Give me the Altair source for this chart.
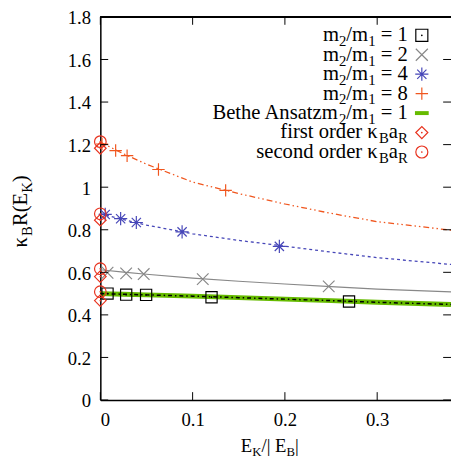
import altair as alt
import pandas as pd

# ---------------- data ----------------
# fitted curves
curve_x = [0, 0.025, 0.05, 0.1, 0.15, 0.2, 0.25, 0.3, 0.38]
curve_m8 = [1.212, 1.157, 1.108, 1.024, 0.970, 0.921, 0.877, 0.838, 0.798]
curve_m4 = [0.876, 0.848, 0.822, 0.781, 0.750, 0.723, 0.695, 0.669, 0.637]
curve_m2 = [0.612, 0.601, 0.591, 0.573, 0.558, 0.545, 0.533, 0.521, 0.508]
curve_m1 = [0.500, 0.497, 0.494, 0.488, 0.481, 0.474, 0.467, 0.459, 0.449]
bethe_m1 = [0.500, 0.497, 0.494, 0.488, 0.481, 0.474, 0.467, 0.459, 0.449]

# data points
m1_x = [0.0078, 0.028, 0.0496, 0.1205, 0.2695]
m1_y = [0.500, 0.495, 0.494, 0.483, 0.463]
m2_x = [0.0078, 0.028, 0.047, 0.111, 0.2475]
m2_y = [0.598, 0.595, 0.592, 0.568, 0.534]
m4_x = [0.0053, 0.022, 0.039, 0.0886, 0.194]
m4_y = [0.872, 0.852, 0.834, 0.790, 0.722]
m8_x = [0.0018, 0.0166, 0.029, 0.063, 0.1358]
m8_y = [1.203, 1.172, 1.148, 1.083, 0.985]
first_order = [1.183, 0.845, 0.580, 0.467]
second_order = [1.214, 0.875, 0.617, 0.509]

x_ticks = [0, 0.1, 0.2, 0.3]
y_ticks = [0, 0.2, 0.4, 0.6, 0.8, 1.0, 1.2, 1.4, 1.6, 1.8]

legend_rows = [
    [("m", 0), ("2", 1), ("/m", 0), ("1", 1), (" = 1", 0)],
    [("m", 0), ("2", 1), ("/m", 0), ("1", 1), (" = 2", 0)],
    [("m", 0), ("2", 1), ("/m", 0), ("1", 1), (" = 4", 0)],
    [("m", 0), ("2", 1), ("/m", 0), ("1", 1), (" = 8", 0)],
    [("Bethe Ansatzm", 0), ("2", 1), ("/m", 0), ("1", 1), (" = 1", 0)],
    [("first order κ", 0), ("B", 1), ("a", 0), ("R", 1)],
    [("second order κ", 0), ("B", 1), ("a", 0), ("R", 1)],
]
x_title = [("E", 0), ("K", 1), ("/| E", 0), ("B", 1), ("|", 0)]
y_title = [("κ", 0), ("B", 1), ("R(E", 0), ("K", 1), (")", 0)]

# ---------------- layout ----------------
W, H = 357, 390
XMAX = 0.38
FONT = "Liberation Serif, Times New Roman, DejaVu Serif, serif"
FS = 19           # tick labels / x title
TICK = 8

ORANGE = "#f0561e"
BLUE = "#4646b8"
GRAY = "#888888"
GREEN = "#66bb00"
RED = "#e8321e"

WID = {' ': 0.25, '(': 0.333, ')': 0.333, '/': 0.278, '|': 0.2, '=': 0.564,
       '.': 0.25, 'a': 0.444, 'b': 0.5, 'c': 0.444, 'd': 0.5, 'e': 0.444,
       'f': 0.333, 'h': 0.5, 'i': 0.278, 'm': 0.778, 'n': 0.5, 'o': 0.5,
       'r': 0.333, 's': 0.389, 't': 0.278, 'z': 0.444, 'A': 0.722,
       'B': 0.667, 'E': 0.611, 'K': 0.722, 'R': 0.667, 'κ': 0.56}


def tw(s, size):
    return sum(WID.get(c, 0.5) for c in s) * size


def pieces_width(pieces, fs, sfs):
    return sum(tw(t, sfs if s else fs) for t, s in pieces)


def place(pieces, x0, yb, out, fs, sfs, sub, rotated=False):
    """Lay out text pieces; leading spaces become an advance (SVG drops them)."""
    pos = x0
    for t, s in pieces:
        size = sfs if s else fs
        lead = len(t) - len(t.lstrip(" "))
        pos += tw(" " * lead, size) * (-1 if rotated else 1)
        body = t.lstrip(" ")
        if rotated:
            out.append({"px": yb + (sub if s else 0), "py": pos, "t": body, "fs": size})
            pos -= tw(body, size)
        else:
            out.append({"px": pos, "py": yb + (sub if s else 0), "t": body, "fs": size})
            pos += tw(body, size)


xs = alt.Scale(domain=[0, XMAX], nice=False, zero=False)
ys = alt.Scale(domain=[0, 1.8], nice=False, zero=False)

# curves
cdf = pd.DataFrame({"x": curve_x, "m8": curve_m8, "m4": curve_m4,
                    "m2": curve_m2, "m1": curve_m1, "bethe": bethe_m1})

xaxis = alt.Axis(values=x_ticks, format="~g", ticks=False, tickSize=0, grid=False,
                 title=None, labelFont=FONT, labelFontSize=FS, labelColor="black",
                 domainColor="black", domainWidth=1.5, labelPadding=11)
yaxis = alt.Axis(values=y_ticks, format="~g", ticks=False, tickSize=0, grid=False,
                 title=None, labelFont=FONT, labelFontSize=FS, labelColor="black",
                 domainColor="black", domainWidth=1.5, labelPadding=10, labelOffset=1)

base = alt.Chart(cdf)
bethe = base.mark_line(color=GREEN, strokeWidth=5).encode(
    x=alt.X("x:Q", scale=xs, axis=xaxis), y=alt.Y("bethe:Q", scale=ys, axis=yaxis))
l1 = base.mark_line(color="black", strokeWidth=1.5, strokeDash=[4, 3, 1.5, 3]).encode(
    x=alt.X("x:Q", scale=xs), y=alt.Y("m1:Q", scale=ys))
l2 = base.mark_line(color=GRAY, strokeWidth=1.2).encode(
    x=alt.X("x:Q", scale=xs), y=alt.Y("m2:Q", scale=ys))
l4 = base.mark_line(color=BLUE, strokeWidth=1.3, strokeDash=[3, 3]).encode(
    x=alt.X("x:Q", scale=xs), y=alt.Y("m4:Q", scale=ys))
l8 = base.mark_line(color=ORANGE, strokeWidth=1.3, strokeDash=[6, 3, 1.5, 3, 1.5, 3]).encode(
    x=alt.X("x:Q", scale=xs), y=alt.Y("m8:Q", scale=ys))

CROSS = "M-1,-1L1,1M1,-1L-1,1"
STAR = "M-1,0L1,0M0,-1L0,1M-0.7,-0.7L0.7,0.7M-0.7,0.7L0.7,-0.7"
PLUS = "M-1,0L1,0M0,-1L0,1"


def pts(xv, yv, shape, color, size, filled=False, sw=1.2):
    d = pd.DataFrame({"x": xv, "y": yv})
    return alt.Chart(d).mark_point(shape=shape, color=color, size=size, filled=filled,
                                   strokeWidth=sw, opacity=1).encode(
        x=alt.X("x:Q", scale=xs), y=alt.Y("y:Q", scale=ys))


zeros = [0] * len(first_order)
p_layers = [
    pts(m1_x, m1_y, "square", "black", 130),
    pts(m1_x, m1_y, "circle", "black", 3, filled=True),
    pts(m2_x, m2_y, CROSS, GRAY, 140),
    pts(m4_x, m4_y, STAR, BLUE, 180),
    pts(m8_x, m8_y, PLUS, ORANGE, 160),
    pts(zeros, first_order, "diamond", RED, 140),
    pts(zeros, first_order, "circle", RED, 3, filled=True),
    pts(zeros, second_order, "circle", RED, 140),
    pts(zeros, second_order, "circle", RED, 3, filled=True),
]

# inward ticks on all four sides
ytdf = pd.DataFrame({"v": y_ticks})
xtdf = pd.DataFrame({"v": x_ticks})
tick_layers = [
    alt.Chart(ytdf).mark_rule(color="black", strokeWidth=1).encode(
        y=alt.Y("v:Q", scale=ys), x=alt.value(0), x2=alt.value(TICK)),
    alt.Chart(ytdf).mark_rule(color="black", strokeWidth=1).encode(
        y=alt.Y("v:Q", scale=ys), x=alt.value(W - TICK), x2=alt.value(W)),
    alt.Chart(xtdf).mark_rule(color="black", strokeWidth=1).encode(
        x=alt.X("v:Q", scale=xs), y=alt.value(H), y2=alt.value(H - TICK)),
    alt.Chart(xtdf).mark_rule(color="black", strokeWidth=1).encode(
        x=alt.X("v:Q", scale=xs), y=alt.value(0), y2=alt.value(TICK)),
    alt.Chart(xtdf).mark_rule(color="black", strokeWidth=1.5).encode(
        x=alt.value(0), x2=alt.value(W), y=alt.value(0)),
]

# legend and titles as text pieces (pixel positions)
LFS, LSFS, LSUB = 21, 15, 5
LX_RIGHT = 313.0
LSYM_X = 327.3
LROW0 = 18.7
LROW = 19.8
BASE_OFF = 6.0

rows = []
for i, row in enumerate(legend_rows):
    yc = LROW0 + i * LROW
    place(row, LX_RIGHT - pieces_width(row, LFS, LSFS), yc + BASE_OFF, rows, LFS, LSFS, LSUB)

# x title
place(x_title, 172.5 - pieces_width(x_title, 19, 13) / 2, 443, rows, 19, 13, 4)
tdf = pd.DataFrame(rows)

text_layer = alt.Chart(tdf).mark_text(align="left", baseline="alphabetic", font=FONT,
                                      color="black").encode(
    x=alt.X("px:Q", scale=None), y=alt.Y("py:Q", scale=None), text="t:N",
    size=alt.Size("fs:Q", scale=None, legend=None))

yrows = []
place(y_title, 198.0 + pieces_width(y_title, 21, 15) / 2, -74.7, yrows, 21, 15, 5,
      rotated=True)
ydf = pd.DataFrame(yrows)
ytitle_layer = alt.Chart(ydf).mark_text(align="left", baseline="alphabetic", font=FONT,
                                        color="black", angle=270).encode(
    x=alt.X("px:Q", scale=None), y=alt.Y("py:Q", scale=None), text="t:N",
    size=alt.Size("fs:Q", scale=None, legend=None))

# legend symbols
ly = [LROW0 + i * LROW for i in range(7)]


def lsym(i, shape, color, size, filled=False):
    d = pd.DataFrame({"px": [LSYM_X], "py": [ly[i]]})
    return alt.Chart(d).mark_point(shape=shape, color=color, size=size, filled=filled,
                                   strokeWidth=1.2, opacity=1).encode(
        x=alt.X("px:Q", scale=None), y=alt.Y("py:Q", scale=None))


leg_layers = [
    lsym(0, "square", "black", 150), lsym(0, "circle", "black", 3, True),
    lsym(1, CROSS, GRAY, 150),
    lsym(2, STAR, BLUE, 180),
    lsym(3, PLUS, ORANGE, 160),
    alt.Chart(pd.DataFrame({"a": [LSYM_X - 7], "b": [LSYM_X + 7], "py": [ly[4]]})).mark_rule(
        color=GREEN, strokeWidth=4).encode(
        x=alt.X("a:Q", scale=None), x2="b:Q", y=alt.Y("py:Q", scale=None)),
    lsym(5, "diamond", RED, 150), lsym(5, "circle", RED, 3, True),
    lsym(6, "circle", RED, 150), lsym(6, "circle", RED, 3, True),
]

chart = alt.layer(bethe, l1, l2, l4, l8, *p_layers, *tick_layers, *leg_layers,
                  text_layer, ytitle_layer).properties(
    width=W, height=H,
    autosize=alt.AutoSizeParams(type="none"),
    padding={"left": 94, "top": 5, "right": 0, "bottom": 58},
).configure_view(stroke=None).configure(background="white")

chart.save("out.html", embed_options={"renderer": "svg", "actions": False})
